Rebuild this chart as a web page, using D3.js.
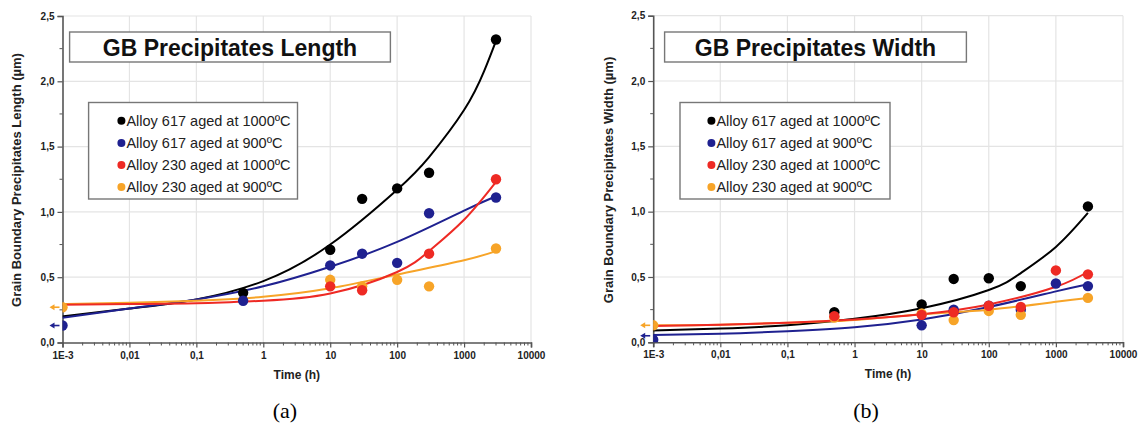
<!DOCTYPE html>
<html><head><meta charset="utf-8">
<script src="https://cdn.jsdelivr.net/npm/d3@7"></script>
<style>body{margin:0;background:#fff}svg{display:block}</style>
</head><body><svg id="c" width="1140" height="434"></svg>
<script>
// ---------- data ----------
const seriesNames = ["Alloy 617 aged at 1000ºC","Alloy 617 aged at 900ºC","Alloy 230 aged at 1000ºC","Alloy 230 aged at 900ºC"];
const seriesColors = ["#000000","#1f2190","#ee2a24","#f7a428"];
const xTicks = [1e-3,1e-2,0.1,1,10,100,1000,10000];
const xTickLabels = ["1E-3","0,01","0,1","1","10","100","1000","10000"];
const yTicks = [0,0.5,1,1.5,2,2.5];
const yTickLabels = ["0,0","0,5","1,0","1,5","2,0","2,5"];

// (a) Length: measured points
const lenT = [
  [0.5,10,30,100,300,3000],
  [0.001,0.5,10,30,100,300,3000],
  [10,30,300,3000],
  [0.001,10,30,100,300,3000]
];
const lenV = [
  [0.38,0.71,1.10,1.18,1.30,2.32],
  [0.13,0.32,0.59,0.68,0.61,0.99,1.11],
  [0.43,0.40,0.68,1.25],
  [0.27,0.48,0.43,0.48,0.43,0.72]
];
// (a) fitted curves
const lenFitT = [
  [0.001,0.01,0.1,1,10,100,300,1000,2000,3000],
  [0.001,0.01,0.1,1,10,100,1000,3000],
  [0.001,0.01,0.1,1,10,100,300,1000,3000],
  [0.001,0.01,0.1,1,10,100,1000,3000]
];
const lenFitV = [
  [0.20,0.26,0.33,0.47,0.75,1.17,1.42,1.78,2.08,2.31],
  [0.19,0.26,0.33,0.43,0.58,0.77,1.01,1.12],
  [0.29,0.295,0.30,0.32,0.375,0.54,0.70,0.94,1.23],
  [0.295,0.305,0.32,0.35,0.415,0.52,0.63,0.70]
];
const lenArrows = [[1,0.13],[3,0.27]]; // series index, value

// (b) Width: measured points
const widT = [
  [0.5,10,30,100,300,3000],
  [0.001,10,30,100,300,1000,3000],
  [0.5,10,30,100,300,1000,3000],
  [0.001,0.5,10,30,100,300,3000]
];
const widV = [
  [0.23,0.29,0.485,0.49,0.43,1.04],
  [0.02,0.13,0.25,0.28,0.25,0.45,0.43],
  [0.20,0.21,0.23,0.28,0.27,0.55,0.52],
  [0.13,0.19,0.22,0.17,0.24,0.21,0.34]
];
const widFitT = [
  [0.001,0.01,0.1,1,10,100,300,1000,3000],
  [0.001,0.01,0.1,1,10,100,1000,3000],
  [0.001,0.01,0.1,1,10,100,1000,3000],
  [0.001,0.01,0.1,1,10,100,1000,3000]
];
const widFitV = [
  [0.09,0.105,0.13,0.18,0.26,0.40,0.53,0.73,0.99],
  [0.055,0.065,0.085,0.115,0.175,0.27,0.39,0.445],
  [0.125,0.135,0.15,0.175,0.215,0.29,0.425,0.54],
  [0.13,0.135,0.15,0.17,0.215,0.25,0.31,0.34]
];
const widArrows = [[1,0.05],[3,0.13]];

// ---------- drawing ----------
const svg = d3.select("#c");
svg.append("rect").attr("width",1140).attr("height",434).attr("fill","#fff");
const FONT = "Liberation Sans, Arial, sans-serif";

function panel(cfg){
  const g = svg.append("g");
  const x = d3.scaleLog().domain([1e-3,1e4]).range([cfg.x0,cfg.x1]);
  const y = d3.scaleLinear().domain([0,2.5]).range([cfg.y0,cfg.y1]);
  const cid = "clip"+cfg.id;
  svg.append("clipPath").attr("id",cid).append("rect")
    .attr("x",cfg.x0).attr("y",cfg.y1).attr("width",cfg.x1-cfg.x0).attr("height",cfg.y0-cfg.y1);

  // grid
  g.append("g").selectAll("line").data(xTicks.slice(1)).join("line")
    .attr("x1",d=>x(d)).attr("x2",d=>x(d)).attr("y1",cfg.y0).attr("y2",cfg.y1)
    .attr("stroke","#e4e4e4").attr("stroke-width",1.2);
  g.append("g").selectAll("line").data(yTicks.slice(1)).join("line")
    .attr("x1",cfg.x0).attr("x2",cfg.x1).attr("y1",d=>y(d)).attr("y2",d=>y(d))
    .attr("stroke","#e4e4e4").attr("stroke-width",1.2);

  // axes
  const xAxis = d3.axisBottom(x).tickValues(xTicks).tickFormat((d,i)=>xTickLabels[i]).tickSize(5).tickPadding(4);
  const gx = g.append("g").attr("transform",`translate(0,${cfg.y0})`).call(xAxis);
  const minors = [];
  for(let e=-3;e<4;e++) for(let m=2;m<10;m++) minors.push(m*Math.pow(10,e));
  g.append("g").selectAll("line").data(minors).join("line")
    .attr("x1",d=>x(d)).attr("x2",d=>x(d)).attr("y1",cfg.y0).attr("y2",cfg.y0+3)
    .attr("stroke","#555").attr("stroke-width",1);
  const yAxis = d3.axisLeft(y).tickValues(yTicks).tickFormat((d,i)=>yTickLabels[i]).tickSize(5).tickPadding(3);
  const gy = g.append("g").attr("transform",`translate(${cfg.x0},0)`).call(yAxis);
  g.append("g").selectAll("line").data([0.25,0.75,1.25,1.75,2.25]).join("line")
    .attr("x1",cfg.x0-3).attr("x2",cfg.x0).attr("y1",d=>y(d)).attr("y2",d=>y(d))
    .attr("stroke","#555").attr("stroke-width",1);
  [gx,gy].forEach(a=>{
    a.select(".domain").attr("stroke","#555").attr("stroke-width",1.6);
    a.selectAll(".tick line").attr("stroke","#555").attr("stroke-width",1.2);
    a.selectAll("text").attr("font-family",FONT).attr("font-weight","bold").attr("font-size",10).attr("fill","#222");
  });

  // axis titles
  g.append("text").attr("x",(cfg.x0+cfg.x1)/2).attr("y",cfg.y0+36).attr("text-anchor","middle")
    .attr("font-family",FONT).attr("font-weight","bold").attr("font-size",12).attr("fill","#222").text("Time (h)");
  g.append("text").attr("transform",`translate(${cfg.ylabX},${cfg.ylabY}) rotate(-90)`)
    .attr("text-anchor","middle").attr("dominant-baseline","central")
    .attr("font-family",FONT).attr("font-weight","bold").attr("font-size",13).attr("fill","#222").text(cfg.ylabel);

  // fitted curves
  const line = d3.line().x(d=>x(d[0])).y(d=>y(d[1])).curve(d3.curveNatural);
  const order = [0,1,3,2];
  order.forEach(i=>{
    const pts = cfg.fitT[i].map((t,j)=>[t,cfg.fitV[i][j]]);
    g.append("path").attr("d",line(pts)).attr("fill","none")
      .attr("stroke",seriesColors[i]).attr("stroke-width",2).attr("clip-path",`url(#${cid})`);
  });
  // points
  order.forEach(i=>{
    g.append("g").attr("clip-path",`url(#${cid})`).selectAll("circle")
      .data(cfg.T[i].map((t,j)=>[t,cfg.V[i][j]])).join("circle")
      .attr("cx",d=>x(d[0])).attr("cy",d=>y(d[1])).attr("r",5.2).attr("fill",seriesColors[i]);
  });
  // arrows
  cfg.arrows.forEach(([i,v])=>{
    const yy = y(v), xa = cfg.x0-13, xb = cfg.x0-3;
    g.append("line").attr("x1",xa+4).attr("x2",xb).attr("y1",yy).attr("y2",yy)
      .attr("stroke",seriesColors[i]).attr("stroke-width",1.6);
    g.append("path").attr("d",`M${xa},${yy}L${xa+5},${yy-3}L${xa+5},${yy+3}Z`).attr("fill",seriesColors[i]);
  });

  // title box
  g.append("rect").attr("x",cfg.tb[0]).attr("y",32).attr("width",cfg.tb[1]-cfg.tb[0]).attr("height",30)
    .attr("fill","#fff").attr("stroke","#777").attr("stroke-width",1.4);
  g.append("text").attr("x",(cfg.tb[0]+cfg.tb[1])/2).attr("y",56).attr("text-anchor","middle")
    .attr("font-family",FONT).attr("font-weight","bold").attr("font-size",23).attr("fill","#111").text(cfg.title);

  // legend
  g.append("rect").attr("x",cfg.lb[0]).attr("y",102.5).attr("width",cfg.lb[1]-cfg.lb[0]).attr("height",96.5)
    .attr("fill","#fff").attr("stroke","#777").attr("stroke-width",1.4);
  const rows = [120.7,143,165,187];
  seriesNames.forEach((n,i)=>{
    g.append("circle").attr("cx",cfg.ld).attr("cy",rows[i]).attr("r",4).attr("fill",seriesColors[i]);
    g.append("text").attr("x",cfg.ld+5).attr("y",rows[i]).attr("dominant-baseline","central")
      .attr("font-family",FONT).attr("font-size",14.5).attr("fill","#222").text(n);
  });

  // sub caption
  svg.append("text").attr("x",cfg.cap).attr("y",418).attr("text-anchor","middle")
    .attr("font-family","Liberation Serif, Times New Roman, serif").attr("font-size",22).attr("fill","#000").text(cfg.capText);
}

panel({id:"a",x0:62.5,x1:531,y0:342.5,y1:16,T:lenT,V:lenV,fitT:lenFitT,fitV:lenFitV,arrows:lenArrows,
  title:"GB Precipitates Length",ylabel:"Grain Boundary Precipitates Length (µm)",ylabX:16,ylabY:180,
  tb:[69.6,390.4],lb:[88.6,297.5],ld:121.4,cap:285,capText:"(a)"});
panel({id:"b",x0:653.2,x1:1123,y0:342.3,y1:15.7,T:widT,V:widV,fitT:widFitT,fitV:widFitV,arrows:widArrows,
  title:"GB Precipitates Width",ylabel:"Grain Boundary Precipitates Width (µm)",ylabX:608,ylabY:180,
  tb:[664.6,966.4],lb:[680,890],ld:711.4,cap:866,capText:"(b)"});
</script></body></html>
